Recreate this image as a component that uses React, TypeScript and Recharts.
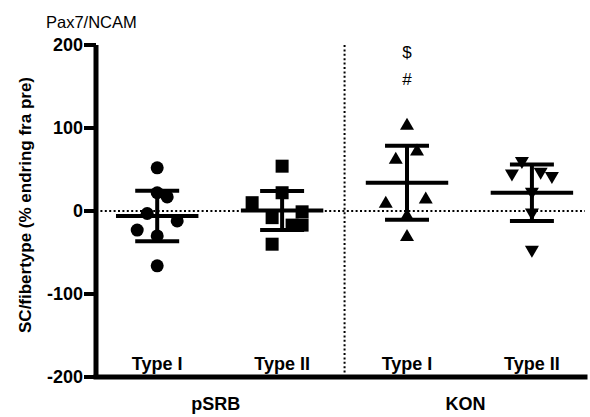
import React from 'react';
import { ComposedChart, Scatter, XAxis, YAxis, ReferenceLine } from 'recharts';

const categories = ['Type I', 'Type II', 'Type I', 'Type II'];
const groups = ['pSRB', 'KON'];
const yTicks = [-200, -100, 0, 100, 200];

const pSRB_I = [52, 22, 17, -3, -12, -23, -30, -66];
const pSRB_I_jitter = [0, 0, 0.08, -0.08, 0.16, -0.16, 0, 0];
const pSRB_II = [54, 22, 10, -8, -1, -17, -17, -40];
const pSRB_II_jitter = [0, 0, -0.24, -0.08, 0.16, 0.16, 0.08, -0.08];
const KON_I = [104, 73, 63, 10, 15, -5, -30];
const KON_I_jitter = [0, 0.08, -0.09, -0.17, 0.15, 0, 0];
const KON_II = [59, 44, 46, 41, 22, -3, -48];
const KON_II_jitter = [-0.08, -0.16, 0.07, 0.16, 0, 0, 0];

const means = [-6, 0.5, 34, 22];
const sds = [30.5, 23.5, 44.5, 34];

const annotations = [
  { cat: 3, y: 191, text: '$' },
  { cat: 3, y: 159, text: '#' },
];

const FONT = '"Liberation Sans", Arial, Helvetica, sans-serif';

const series = [
  { values: pSRB_I, jitter: pSRB_I_jitter, shape: 'circle' },
  { values: pSRB_II, jitter: pSRB_II_jitter, shape: 'square' },
  { values: KON_I, jitter: KON_I_jitter, shape: 'up' },
  { values: KON_II, jitter: KON_II_jitter, shape: 'down' },
];

const catPos = categories.map((_, i) => i + 1);
const groupPos = [(catPos[0] + catPos[1]) / 2, (catPos[2] + catPos[3]) / 2];

const makeShape = (kind: string) => (props: any) => {
  const { cx, cy } = props;
  if (cx == null || cy == null) return <g />;
  if (kind === 'circle') return <circle cx={cx} cy={cy} r={6.5} fill="#000" />;
  if (kind === 'square') return <rect x={cx - 6.5} y={cy - 6.5} width={13} height={13} fill="#000" />;
  if (kind === 'up')
    return <polygon points={`${cx},${cy - 7} ${cx - 7},${cy + 5} ${cx + 7},${cy + 5}`} fill="#000" />;
  return <polygon points={`${cx},${cy + 7} ${cx - 7},${cy - 5} ${cx + 7},${cy - 5}`} fill="#000" />;
};

const XTick = (props: any) => {
  const { x, y, payload } = props;
  const v = payload.value;
  const ci = catPos.indexOf(v);
  if (ci >= 0) {
    return (
      <text x={x} y={y - 7} textAnchor="middle" fontSize={18} fontWeight="bold" fill="#000" fontFamily={FONT}>
        {categories[ci]}
      </text>
    );
  }
  const gi = groupPos.indexOf(v);
  if (gi >= 0) {
    return (
      <text x={x - 4} y={y + 33} textAnchor="middle" fontSize={18} fontWeight="bold" fill="#000" fontFamily={FONT}>
        {groups[gi]}
      </text>
    );
  }
  return <g />;
};

const AnnShape = (props: any) => {
  const { cx, cy, payload } = props;
  return (
    <text x={cx} y={cy} textAnchor="middle" dominantBaseline="central" fontSize={17} fill="#000" fontFamily={FONT}>
      {payload.text}
    </text>
  );
};

export default function App() {
  const errLines: any[] = [];
  means.forEach((m, i) => {
    const p = catPos[i];
    const s = sds[i];
    errLines.push([[p - 0.33, m], [p + 0.33, m]]);
    errLines.push([[p, m - s], [p, m + s]]);
    errLines.push([[p - 0.176, m + s], [p + 0.176, m + s]]);
    errLines.push([[p - 0.176, m - s], [p + 0.176, m - s]]);
  });
  const annData = annotations.map((a) => ({ x: a.cat, y: a.y, text: a.text }));

  return (
    <div style={{ position: 'absolute', left: 0, top: 0, width: 590, height: 417, background: '#fff', fontFamily: FONT }}>
      <ComposedChart width={590} height={417} margin={{ top: 45, right: 5, bottom: 0, left: 0 }}>
        <XAxis
          type="number"
          dataKey="x"
          domain={[0.51, 4.425]}
          ticks={[...catPos.slice(0, 2), groupPos[0], ...catPos.slice(2), groupPos[1]].sort((a, b) => a - b)}
          allowDataOverflow
          height={40}
          tickSize={0}
          tickMargin={0}
          tickLine={false}
          axisLine={{ stroke: '#000', strokeWidth: 5, strokeLinecap: 'square' }}
          tick={<XTick />}
          interval={0}
        />
        <YAxis
          type="number"
          dataKey="y"
          domain={[-200, 200]}
          ticks={yTicks}
          allowDataOverflow
          width={96}
          tickSize={12}
          tickMargin={1}
          axisLine={{ stroke: '#000', strokeWidth: 5 }}
          tickLine={{ stroke: '#000', strokeWidth: 4 }}
          tick={{ fill: '#000', fontSize: 18, fontWeight: 'bold', fontFamily: FONT }}
          interval={0}
        />
        <ReferenceLine y={0} stroke="#000" strokeWidth={2} strokeDasharray="2 2.4" />
        <ReferenceLine x={2.5} stroke="#000" strokeWidth={2} strokeDasharray="2 2.4" />
        {errLines.map((seg, k) => (
          <ReferenceLine
            key={k}
            segment={[{ x: seg[0][0], y: seg[0][1] }, { x: seg[1][0], y: seg[1][1] }]}
            stroke="#000"
            strokeWidth={4}
            ifOverflow="visible"
          />
        ))}
        {series.map((s, i) => (
          <Scatter
            key={i}
            data={s.values.map((v, j) => ({ x: catPos[i] + s.jitter[j], y: v }))}
            shape={makeShape(s.shape)}
            isAnimationActive={false}
          />
        ))}
        <Scatter data={annData} shape={<AnnShape />} isAnimationActive={false} />
      </ComposedChart>
      <svg width={590} height={417} style={{ position: 'absolute', left: 0, top: 0, pointerEvents: 'none' }}>
        <text x={46} y={28} fontSize={16.5} fill="#000" fontFamily={FONT}>Pax7/NCAM</text>
        <text
          x={25}
          y={205}
          transform="rotate(-90, 25, 205)"
          textAnchor="middle"
          dominantBaseline="central"
          fontSize={17}
          fontWeight="bold"
          fill="#000"
          fontFamily={FONT}
        >
          SC/fibertype (% endring fra pre)
        </text>
      </svg>
    </div>
  );
}
